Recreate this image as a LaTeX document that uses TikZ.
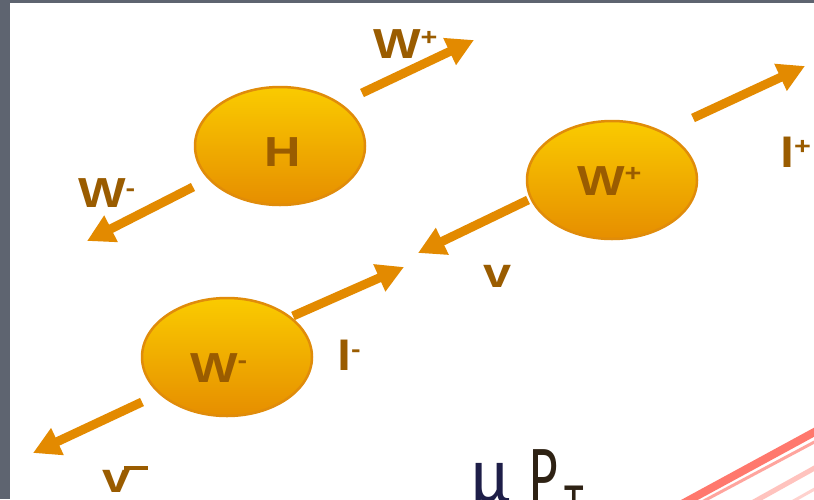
\documentclass[tikz,border=0pt]{standalone}
\usepackage{fontspec}
\setmainfont{Liberation Sans}
\newfontfamily\calib{Carlito}
\usetikzlibrary{arrows.meta,shapes.geometric}
\definecolor{framegray}{HTML}{5E6470}
\definecolor{arr}{HTML}{E38A00}
\definecolor{lab}{HTML}{9A5C00}
\definecolor{balltop}{HTML}{FACB00}
\definecolor{ballbot}{HTML}{E68E00}
\definecolor{ballline}{HTML}{E08C0A}
\definecolor{redline}{HTML}{FF6A5E}
\definecolor{mucol}{HTML}{1E1E48}
\definecolor{pcol}{HTML}{2E2214}
\newcommand\suptxt[2]{{\fontsize{24}{24}\selectfont\raisebox{#1}{#2}}}
\begin{document}
\begin{tikzpicture}[x=1pt,y=-1pt,
  ball/.style={ellipse, draw=ballline, line width=2.5pt, top color=balltop,
    bottom color=ballbot, minimum width=170pt, minimum height=118pt,
    inner sep=0pt, outer sep=0pt},
  lbl/.style={text=lab, font=\bfseries\fontsize{42}{42}\selectfont,
    inner sep=0pt, outer sep=0pt, xscale=1.2},
  lblbase/.style={lbl, anchor=base west},
  ptcl/.style={draw=arr, line width=9pt, -{Triangle[length=27pt,width=28pt]}},
  redl/.style={draw=redline, line cap=butt}]
\useasboundingbox (0,0) rectangle (814,499);
\fill[framegray] (0,0) rectangle (814,499);
\fill[white] (10,3) rectangle (814,499);

% red lines
\draw[redl, opacity=0.9, line width=8pt] (682,504) -- (820,429);
\draw[redl, opacity=0.6, line width=3pt] (698,504) -- (820,439);
\draw[redl, opacity=0.4, line width=5pt] (750,504) -- (820,465);
\draw[redl, opacity=0.3, line width=3pt] (788,504) -- (820,486);

% balls
\node[ball] (H) at (280,146) {};
\node[ball] (Wp) at (612,180) {};
\node[ball] (Wm) at (227,357) {};

% labels
\node[lbl] (Ht) at (283,152) {H};
\node[lblbase] (WpTop) at (373,58) {W\suptxt{13pt}{+}};
\node[lblbase] (WmLeft) at (78,207) {W\suptxt{11pt}{-}};
\node[lblbase] (WpIn) at (577,195) {W\suptxt{14pt}{+}};
\node[lblbase] (lp) at (780,167) {l\suptxt{13pt}{+}};
\node[lblbase] (nu) at (483,287) {v};
\node[lblbase] (WmIn) at (190,382) {W\suptxt{14pt}{-}};
\node[lblbase] (lm) at (337,370) {l\suptxt{13pt}{-}};
\node[lblbase] (nubar) at (102,492) {v\kern-5pt\raisebox{22pt}{\rule{20pt}{4pt}}};

% arrow coordinates
\coordinate (a1s) at (362,93);  \coordinate (a1e) at (474,40);
\coordinate (a2s) at (193,187); \coordinate (a2e) at (87,241);
\coordinate (a3s) at (693,118); \coordinate (a3e) at (805,66);
\coordinate (a4s) at (528,200); \coordinate (a4e) at (418,253);
\coordinate (a5s) at (293,316); \coordinate (a5e) at (404,267);
\coordinate (a6s) at (142,402); \coordinate (a6e) at (33,453);

\draw[ptcl] (a1s) -- (a1e);
\draw[ptcl] (a2s) -- (a2e);
\draw[ptcl] (a3s) -- (a3e);
\draw[ptcl] (a4s) -- (a4e);
\draw[ptcl] (a5s) -- (a5e);
\draw[ptcl] (a6s) -- (a6e);

% bottom text
\node[anchor=base west, inner sep=0pt, yscale=1.5,
  font=\calib\fontsize{56}{56}\selectfont] (mupt) at (471,503)
  {\textcolor{mucol}{\scalebox{1.25}[1]{µ}}\hspace{20pt}\textcolor{pcol}{P}\hspace{6pt}\raisebox{-14pt}{\textcolor{pcol}{\fontsize{40}{40}\selectfont T}}};
\end{tikzpicture}
\end{document}
